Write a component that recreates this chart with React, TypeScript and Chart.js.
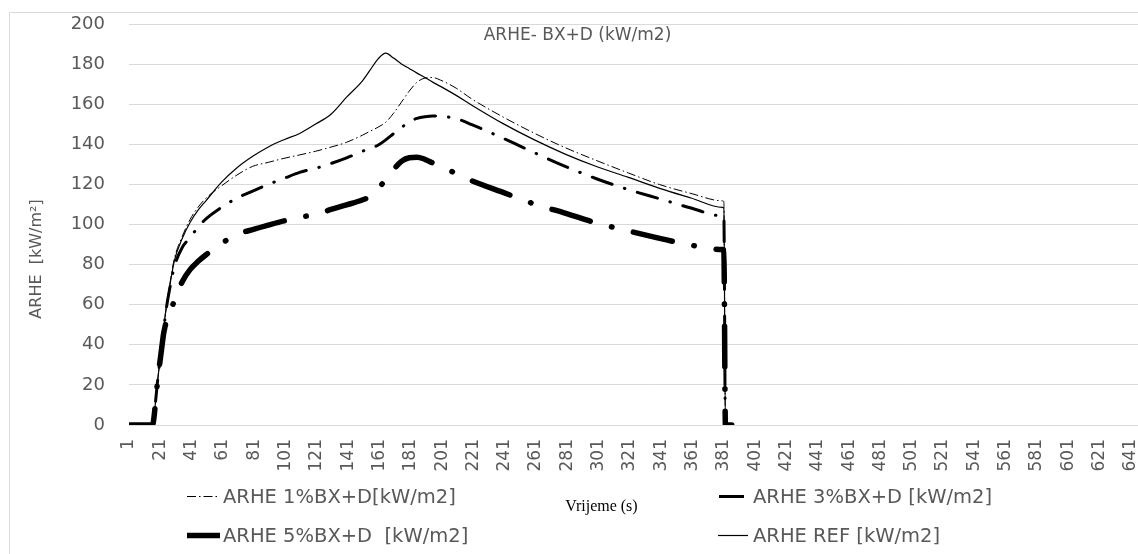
import React, { useEffect, useRef } from "react";
import { Chart, registerables } from "chart.js";

Chart.register(...registerables);

// ---- data (time in seconds, ARHE in kW/m2) ----
const TIME = [1, 10, 16, 17, 18, 19, 20, 21, 22, 23, 24, 25, 27, 30, 35, 40, 45, 50, 60, 70, 80, 90, 100, 110, 120, 130, 140, 150, 155, 160, 165, 170, 175, 180, 185, 190, 195, 200, 210, 220, 240, 260, 280, 300, 320, 340, 360, 380, 381, 382, 386];

const ARHE_1 = [0, 0, 0, 4, 12, 20, 27, 34, 40, 47, 54, 60, 70, 83, 94, 102.5, 108.5, 113, 119.2, 124.7, 129, 131, 133, 134.7, 136.5, 138.6, 141, 144.5, 146.5, 148.5, 151, 155.5, 161, 166.5, 171, 173, 173.3, 172, 168, 162.6, 153.6, 145.5, 138.2, 131.8, 125.7, 119.9, 115.5, 111.8, 111.4, 0, 0];

const ARHE_3 = [0, 0, 0, 4, 12, 20, 27, 34, 40, 47, 53, 59, 68, 79, 88.5, 93.5, 98.5, 102.7, 108.5, 113.2, 116.7, 120, 123, 126, 128, 130.4, 133.2, 136.5, 138, 139.5, 142.2, 145.3, 148.3, 151.3, 152.9, 153.7, 154.1, 154, 152.8, 149.8, 143, 135.8, 128.9, 122.7, 117.4, 112.8, 108.2, 104.3, 104.2, 0, 0];

const ARHE_5 = [0, 0, 0, 4, 12, 20, 27, 33, 39, 45, 49, 52, 56, 62, 71.5, 77.5, 81.5, 84.8, 90.5, 95, 97.5, 99.7, 101.8, 103.6, 105, 107.5, 109.8, 112.2, 114, 117.7, 122.5, 127.4, 131.5, 133.3, 133.6, 132.5, 130.7, 128.7, 125.5, 121.8, 116, 110.2, 105.6, 100.7, 96.8, 93.1, 89.7, 87.5, 87.3, 0, 0];

const ARHE_REF = [0, 0, 0, 4, 12, 20, 27, 34, 40, 47, 54, 59, 69, 82, 93, 101, 107, 111.7, 121, 128.3, 134, 138.7, 142.3, 145.4, 150, 155, 163.5, 171.5, 177, 182.5, 185.5, 183, 180.1, 177.8, 175.5, 173.3, 171, 168.9, 164.4, 159.5, 150.3, 142.2, 135, 128.8, 123.5, 118, 113.2, 108.5, 108, 0, 0];

const X_TICKS = [1, 21, 41, 61, 81, 101, 121, 141, 161, 181, 201, 221, 241, 261, 281, 301, 321, 341, 361, 381, 401, 421, 441, 461, 481, 501, 521, 541, 561, 581, 601, 621, 641, 661];
const X_MIN = 1;
const X_MAX = 666;
const Y_MIN = 0;
const Y_MAX = 200;
const Y_STEP = 20;

const SERIES_LABELS = [
  "ARHE 1%BX+D[kW/m2]",
  "ARHE 3%BX+D [kW/m2]",
  "ARHE 5%BX+D  [kW/m2]",
  "ARHE REF [kW/m2]",
];
const CHART_TITLE = "ARHE- BX+D (kW/m2)";
const Y_TITLE = "ARHE  [kW/m²]";
const X_TITLE = "Vrijeme (s)";

const SANS = '"DejaVu Sans", sans-serif';
const GREY_TEXT = "#595959";
const GRID = "#d9d9d9";

const CANVAS_W = 1170;
const CANVAS_H = 554;

const toPoints = (ys: number[]) => TIME.map((t, i) => ({ x: t, y: ys[i] }));

const LEGEND_SLOTS = [
  { x0: 187, x1: 220, y: 496.5, tx: 223, ty: 503, solid: false },
  { x0: 719, x1: 744, y: 496.5, tx: 753, ty: 503, solid: true },
  { x0: 187, x1: 220, y: 535.5, tx: 223, ty: 542, solid: true },
  { x0: 718, x1: 748, y: 535.5, tx: 753, ty: 542, solid: true },
];

const extrasPlugin = {
  id: "extras",
  beforeDraw(chart: any) {
    const ctx = chart.ctx;
    ctx.save();
    ctx.fillStyle = "#fff";
    ctx.fillRect(0, 0, chart.width, chart.height);
    ctx.strokeStyle = GRID;
    ctx.lineWidth = 1;
    ctx.beginPath();
    ctx.moveTo(9.5, chart.height);
    ctx.lineTo(9.5, 12.5);
    ctx.lineTo(chart.width, 12.5);
    ctx.stroke();
    ctx.restore();
  },
  afterDraw(chart: any) {
    const ctx = chart.ctx;
    ctx.save();
    // chart title
    ctx.fillStyle = GREY_TEXT;
    ctx.font = `17px ${SANS}`;
    ctx.textAlign = "center";
    ctx.textBaseline = "alphabetic";
    ctx.fillText(CHART_TITLE, 577.5, 39.5);
    // y title
    ctx.save();
    ctx.translate(41, 259);
    ctx.rotate(-Math.PI / 2);
    ctx.font = `16px ${SANS}`;
    ctx.fillText(Y_TITLE, 0, 0);
    ctx.restore();
    // x title
    ctx.fillStyle = "#000";
    ctx.font = '16px "Liberation Serif", serif';
    ctx.fillText(X_TITLE, 601.5, 510.5);
    // legend
    chart.data.datasets.forEach((ds: any, i: number) => {
      const s = LEGEND_SLOTS[i];
      if (!s) return;
      ctx.save();
      ctx.strokeStyle = ds.borderColor;
      ctx.lineWidth = ds.borderWidth;
      ctx.lineCap = s.solid ? "butt" : ds.borderCapStyle || "butt";
      ctx.setLineDash(s.solid ? [] : ds.borderDash || []);
      ctx.beginPath();
      ctx.moveTo(s.x0, s.y);
      ctx.lineTo(s.x1, s.y);
      ctx.stroke();
      ctx.restore();
      ctx.fillStyle = GREY_TEXT;
      ctx.font = `19.5px ${SANS}`;
      ctx.textAlign = "left";
      ctx.textBaseline = "alphabetic";
      ctx.fillText(ds.label, s.tx, s.ty);
    });
    ctx.restore();
  },
};

export default function App() {
  const canvasRef = useRef<HTMLCanvasElement>(null);

  useEffect(() => {
    const canvas = canvasRef.current;
    if (!canvas) return;
    const chart = new Chart(canvas, {
      type: "line",
      data: {
        datasets: [
          {
            label: SERIES_LABELS[0],
            data: toPoints(ARHE_1),
            borderColor: "#000",
            borderWidth: 1,
            borderDash: [9, 3, 1.5, 3],
            borderCapStyle: "butt",
          },
          {
            label: SERIES_LABELS[1],
            data: toPoints(ARHE_3),
            borderColor: "#000",
            borderWidth: 3,
            borderDash: [21, 13, 0.5, 13],
            borderCapStyle: "round",
          },
          {
            label: SERIES_LABELS[2],
            data: toPoints(ARHE_5),
            borderColor: "#000",
            borderWidth: 5.5,
            borderDash: [40, 22, 0.5, 22],
            borderCapStyle: "round",
          },
          {
            label: SERIES_LABELS[3],
            data: toPoints(ARHE_REF),
            borderColor: "#000",
            borderWidth: 1.2,
            borderCapStyle: "butt",
          },
        ],
      } as any,
      options: {
        responsive: false,
        maintainAspectRatio: false,
        animation: false,
        devicePixelRatio: 1,
        layout: {
          padding: { top: 24, left: 0, right: 0, bottom: 79 },
          autoPadding: false,
        } as any,
        elements: {
          point: { radius: 0 },
          line: { cubicInterpolationMode: "monotone", fill: false, borderJoinStyle: "round" },
        },
        plugins: {
          legend: { display: false },
          title: { display: false },
          tooltip: { enabled: false },
        },
        scales: {
          x: {
            type: "linear",
            min: X_MIN,
            max: X_MAX,
            grid: { display: false, drawTicks: false },
            border: { display: false },
            afterBuildTicks: (scale: any) => {
              scale.ticks = X_TICKS.map((v) => ({ value: v }));
            },
            afterFit: (scale: any) => {
              scale.height = 50;
              scale.paddingLeft = 0;
              scale.paddingRight = 0;
              scale.paddingTop = 0;
              scale.paddingBottom = 0;
            },
            ticks: {
              autoSkip: false,
              minRotation: 90,
              maxRotation: 90,
              padding: 14,
              color: GREY_TEXT,
              font: { family: SANS, size: 17 },
              callback: (v: any) => String(v),
            },
          },
          y: {
            min: Y_MIN,
            max: Y_MAX,
            grid: { color: GRID, lineWidth: 1, drawTicks: false },
            border: { display: false },
            afterFit: (scale: any) => {
              scale.width = 129;
              scale.paddingLeft = 0;
              scale.paddingRight = 0;
              scale.paddingTop = 0;
              scale.paddingBottom = 0;
            },
            ticks: {
              stepSize: Y_STEP,
              padding: 24,
              color: GREY_TEXT,
              font: { family: SANS, size: 18 },
            },
          },
        },
      } as any,
      plugins: [extrasPlugin],
    });
    return () => chart.destroy();
  }, []);

  return (
    <div
      style={{
        position: "fixed",
        left: 0,
        top: 0,
        width: 1138,
        height: 554,
        overflow: "hidden",
        background: "#fff",
      }}
    >
      <canvas
        ref={canvasRef}
        width={CANVAS_W}
        height={CANVAS_H}
        style={{ position: "absolute", left: 0, top: 0, width: CANVAS_W, height: CANVAS_H }}
      />
    </div>
  );
}
